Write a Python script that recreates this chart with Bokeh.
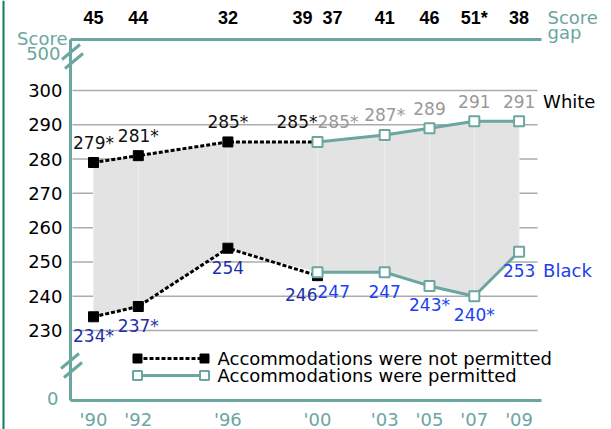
from bokeh.plotting import figure
from bokeh.models import (Range1d, FixedTicker, ColumnDataSource, LinearAxis, Span)
from bokeh.core.properties import value
from bokeh.embed import file_html
from bokeh.resources import INLINE

# ---------------- data ----------------
NP_YEARS = [1990, 1992, 1996, 2000]
NP_WHITE = [279, 281, 285, 285]
NP_WHITE_LBL = ["279*", "281*", "285*", "285*"]
NP_BLACK = [234, 237, 254, 246]
NP_BLACK_LBL = ["234*", "237*", "254", "246"]

P_YEARS = [2000, 2003, 2005, 2007, 2009]
P_WHITE = [285, 287, 289, 291, 291]
P_WHITE_LBL = ["285*", "287*", "289", "291", "291"]
P_BLACK = [247, 247, 243, 240, 253]
P_BLACK_LBL = ["247", "247", "243*", "240*", "253"]

NP_GAP = ["45", "44", "32", "39"]
P_GAP = ["37", "41", "46", "51*", "38"]

Y_TICKS = [230, 240, 250, 260, 270, 280, 290, 300]
X_TICKS = [1990, 1992, 1996, 2000, 2003, 2005, 2007, 2009]
X_LABELS = ["'90", "'92", "'96", "'00", "'03", "'05", "'07", "'09"]

LEGEND_NP = "Accommodations were not permitted"
LEGEND_P = "Accommodations were permitted"
WHITE_NAME = "White"
BLACK_NAME = "Black"

# ---------------- layout / style ----------------
W, H = 611, 429
AX_L, AX_R, AX_T, AX_B = 70, 541, 39, 400     # axis box in canvas px
PXY = 22.4                                    # px per year
PXP = 240 / 70                                # px per score point
X_ANCHOR_PX, Y_ANCHOR_PX = 93, 90             # canvas px of 1990 / 300


def xd(px):
    return 1990 + (px - X_ANCHOR_PX) / PXY


def yd(py):
    return 300 - (py - Y_ANCHOR_PX) / PXP


TEAL = "#6ba69f"
DARKGREEN = "#127a5e"
NAVY = "#1c30a8"
BLUE = "#2040f0"
GREY_TXT = "#999999"
FILL = "#e3e3e3"
FONT = "DejaVu Sans"

p = figure(width=W, height=H, output_backend="svg", toolbar_location=None,
           x_range=Range1d(xd(0), xd(W)), y_range=Range1d(yd(H), yd(0)),
           min_border=0)
p.outline_line_color = None
p.grid.visible = False

# axes drawn at fixed positions inside the canvas
xa = p.xaxis[0]
xa.ticker = FixedTicker(ticks=X_TICKS)
xa.major_label_overrides = {t: l for t, l in zip(X_TICKS, X_LABELS)}
xa.fixed_location = yd(AX_B)
xa.bounds = (xd(AX_L), xd(AX_R))
ya = p.yaxis[0]
ya.ticker = FixedTicker(ticks=Y_TICKS)
ya.fixed_location = xd(AX_L)
ya.bounds = (yd(AX_B), yd(AX_T))

GAP_SHIFT = 15 / PXY
gap_x = NP_YEARS[:-1] + [NP_YEARS[-1] - GAP_SHIFT, P_YEARS[0] + GAP_SHIFT] + P_YEARS[1:]
gap_lbl = NP_GAP + P_GAP
ta = LinearAxis(ticker=FixedTicker(ticks=gap_x),
                major_label_overrides={t: l for t, l in zip(gap_x, gap_lbl)},
                fixed_location=yd(AX_T), bounds=(xd(AX_L), xd(AX_R)))
p.add_layout(ta, "above")

for ax in (xa, ya, ta):
    ax.axis_line_color = TEAL
    ax.axis_line_width = 3
    ax.major_tick_line_color = None
    ax.minor_tick_line_color = None
    ax.major_label_text_font = FONT
    ax.major_label_text_font_size = "18px"
xa.major_label_text_color = TEAL
xa.major_label_standoff = 2
ya.major_label_text_color = "black"
ya.major_label_standoff = 2
ta.major_label_text_font = "Liberation Sans"
ta.major_label_text_font_style = "bold"
ta.major_label_text_color = "black"
ta.major_label_standoff = 6

# horizontal grid lines (beneath the shaded area)
n = len(Y_TICKS)
p.segment(x0=[xd(AX_L + 2)] * n, y0=Y_TICKS, x1=[xd(AX_R - 4)] * n, y1=Y_TICKS,
          line_color="#ababab", line_width=1.5)

# shaded gap area
fill_x = NP_YEARS[:-1] + P_YEARS
fill_hi = NP_WHITE[:-1] + P_WHITE
fill_lo = NP_BLACK[:-1] + P_BLACK
p.varea(x=fill_x, y1=fill_lo, y2=fill_hi, fill_color=FILL)
p.segment(x0=fill_x, y0=fill_lo, x1=fill_x, y1=fill_hi, line_color="#eeeeee", line_width=1)

# series
for ys in (NP_WHITE, NP_BLACK):
    p.line(NP_YEARS, ys, line_color="black", line_width=3, line_dash="4 2")
    p.scatter(NP_YEARS, ys, marker="square", size=10, fill_color="black", line_color="black")
for ys in (P_WHITE, P_BLACK):
    p.line(P_YEARS, ys, line_color=TEAL, line_width=3)
    p.scatter(P_YEARS, ys, marker="square", size=10, fill_color="white",
              line_color=TEAL, line_width=2)


def labels(xs, ys, txt, align, color, off, size="17px"):
    src = ColumnDataSource(dict(x=xs, y=ys, t=txt, a=align))
    p.text(x="x", y="y", text="t", text_align="a", source=src, text_color=color,
           text_baseline="middle", y_offset=off, text_font=value(FONT), text_font_size=size)


np_align = ["center"] * (len(NP_YEARS) - 1) + ["right"]
p_align = ["left"] + ["center"] * (len(P_YEARS) - 1)
labels(NP_YEARS, NP_WHITE, NP_WHITE_LBL, np_align, "#111111", -20)
labels(P_YEARS, P_WHITE, P_WHITE_LBL, p_align, GREY_TXT, -20)
labels(NP_YEARS, NP_BLACK, NP_BLACK_LBL, np_align, NAVY, 19)
labels(P_YEARS, P_BLACK, P_BLACK_LBL, p_align, BLUE, 19)

# series names at the right end
end_x = P_YEARS[-1] + 24 / PXY
labels([end_x], [P_WHITE[-1]], [WHITE_NAME], ["left"], "black", -20, "18px")
labels([end_x], [P_BLACK[-1]], [BLACK_NAME], ["left"], BLUE, 19, "18px")


def txt(px, py, text, color, align="left", size="18px"):
    labels([xd(px)], [yd(py)], [text], [align], color, 0, size)


# axis captions
txt(AX_L - 3, AX_T - 1, "Score", TEAL, "right")
txt(AX_L - 10, AX_T + 14, "500", TEAL, "right")
txt(AX_L - 12, AX_B - 2, "0", TEAL, "right")
txt(AX_R + 6, 17, "Score", TEAL)
txt(AX_R + 6, 32, "gap", TEAL)

# axis break marks
bx0, by0, bx1, by1 = [], [], [], []
for cx, cy in ((AX_L + 2, AX_T + 17), (AX_L + 1, AX_B - 35)):
    for ox, oy in ((-1.5, -4.5), (1.5, 4.5)):
        bx0.append(xd(cx + ox - 9)); by0.append(yd(cy + oy + 7.5))
        bx1.append(xd(cx + ox + 9)); by1.append(yd(cy + oy - 7.5))
p.segment(x0=bx0, y0=by0, x1=bx1, y1=by1, line_color=TEAL, line_width=3)

# legend (markers at both ends of the sample line)
LEG_X0, LEG_X1, LEG_TX, LEG_Y, LEG_DY = 137, 204, 217, 358, 17
for row, (lbl, style) in enumerate(((LEGEND_NP, "np"), (LEGEND_P, "p"))):
    ly = yd(LEG_Y + LEG_DY * row)
    xs = [xd(LEG_X0), xd(LEG_X1)]
    if style == "np":
        p.line(xs, [ly, ly], line_color="black", line_width=3, line_dash="4 2")
        p.scatter(xs, [ly, ly], marker="square", size=9, fill_color="black", line_color="black")
    else:
        p.line(xs, [ly, ly], line_color=TEAL, line_width=3)
        p.scatter(xs, [ly, ly], marker="square", size=9, fill_color="white",
                  line_color=TEAL, line_width=2)
    txt(LEG_TX, LEG_Y + LEG_DY * row, lbl, "black")

# left page border
p.add_layout(Span(location=xd(3), dimension="height", line_color=DARKGREEN, line_width=2))

open("out.html", "w").write(file_html(p, INLINE))
